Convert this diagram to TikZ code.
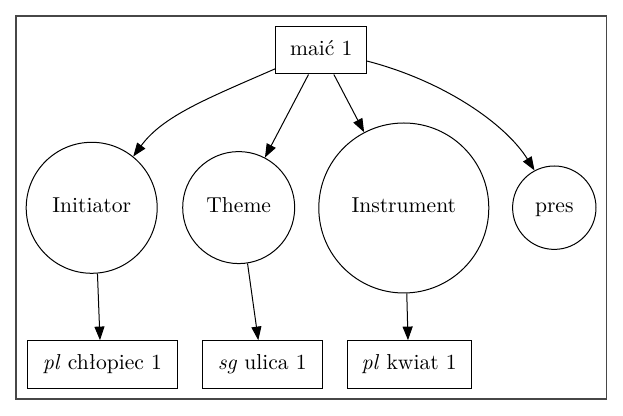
\documentclass[tikz,border=0pt]{standalone}
\usepackage{fontspec}
\usetikzlibrary{arrows.meta,calc}
\begin{document}
\begin{tikzpicture}[x=0.5pt,y=-0.5pt,
  every node/.style={font=\fontsize{10.8}{12}\selectfont, inner sep=0pt, text height=7.5pt, text depth=2.5pt},
  box/.style={draw, line width=0.5pt, minimum height=24pt},
  role/.style={draw, circle, line width=0.5pt},
  edge/.style={line width=0.5pt, -{Triangle[length=6.8pt,width=5pt]}}]
\useasboundingbox (0,0) rectangle (623,416);
\draw[line width=0.9pt, black!72] (15.7,15.7) rectangle (606.5,399);
\node[box, minimum width=45.5pt, minimum height=23.7pt] (m) at (321.2,50.3) {maić 1};
\node[role, minimum size=65.5pt] (ini) at (91.7,207.8) {Initiator};
\node[role, minimum size=56pt] (th) at (238.7,207.6) {Theme};
\node[role, minimum size=85pt] (ins) at (403.8,208) {Instrument};
\node[role, minimum size=41.7pt] (pr) at (554.3,207.7) {pres};
\node[box, minimum width=75pt] (b1) at (102.5,364.7) {\textit{pl} chłopiec 1};
\node[box, minimum width=60.3pt] (b2) at (262.3,364.7) {\textit{sg} ulica 1};
\node[box, minimum width=61.8pt] (b3) at (409.2,364.7) {\textit{pl} kwiat 1};
\draw[edge] ($(m.south west)+(0,-5.7)$) .. controls (206,99) and (163,116) .. (ini.51);
\draw[edge] (m) -- (th);
\draw[edge] (m) -- (ins);
\draw[edge] ($(m.north east)+(0,35)$) .. controls (444.3,81.1) and (505.8,124.2) .. (pr.118);
\draw[edge] (ini.-85.6) -- ($(b1.north)+(-2.5,0)$);
\draw[edge] (th.-81.2) -- ($(b2.north)+(-4,0)$);
\draw[edge] (ins.-88) -- ($(b3.north)+(-1.2,0)$);
\end{tikzpicture}
\end{document}
